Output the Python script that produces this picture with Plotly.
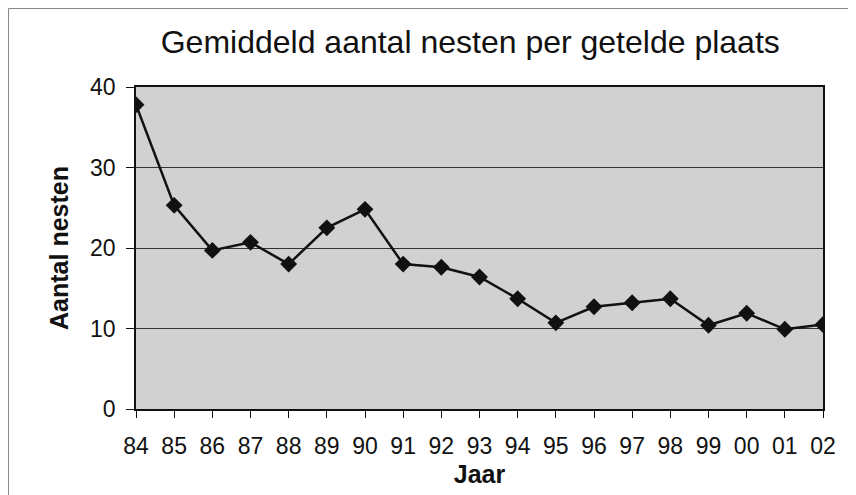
import plotly.graph_objects as go

years = ["84", "85", "86", "87", "88", "89", "90", "91", "92", "93",
         "94", "95", "96", "97", "98", "99", "00", "01", "02"]
nests = [37.8, 25.3, 19.7, 20.7, 18.0, 22.5, 24.8, 18.0, 17.6, 16.4,
         13.7, 10.7, 12.7, 13.2, 13.7, 10.4, 11.9, 9.9, 10.5]
y_ticks = [0, 10, 20, 30, 40]

title_text = "Gemiddeld aantal nesten per getelde plaats"
x_title = "Jaar"
y_title = "Aantal nesten"

FONT = "Liberation Sans, Arial, sans-serif"

fig = go.Figure()
fig.add_trace(go.Scatter(
    x=years, y=nests, mode="lines+markers",
    line=dict(color="#111111", width=2.5),
    marker=dict(symbol="diamond", size=13, color="#111111"),
    showlegend=False,
))

fig.update_layout(
    width=856, height=495,
    margin=dict(l=128, r=41, t=79, b=94),
    paper_bgcolor="white",
    plot_bgcolor="#d1d1d1",
    font=dict(family=FONT, color="#111111"),
    title=dict(text=title_text, x=0.540, xref="container", xanchor="center",
               y=0.931, yref="container", yanchor="middle",
               font=dict(size=32, family=FONT, color="#111111")),
    xaxis=dict(
        type="category", range=[0, 18],
        showline=True, linecolor="#111111", linewidth=1.5, mirror=True,
        ticks="outside", ticklen=7, tickcolor="#111111", tickwidth=1,
        ticklabelstandoff=9,
        tickfont=dict(size=23, family=FONT), showgrid=False,
        title=dict(text="<b>" + x_title + "</b>", font=dict(size=25, family=FONT), standoff=7),
    ),
    yaxis=dict(
        range=[0, 40], tickvals=y_ticks,
        showline=True, linecolor="#111111", linewidth=1.5, mirror=True,
        ticks="outside", ticklen=8, tickcolor="#111111", tickwidth=1,
        ticklabelstandoff=6,
        tickfont=dict(size=23, family=FONT),
        showgrid=True, gridcolor="#333333", gridwidth=1, zeroline=False,
        title=dict(text="<b>" + y_title + "</b>", font=dict(size=25, family=FONT), standoff=14),
    ),
    shapes=[dict(type="rect", xref="paper", yref="paper",
                 x0=-0.1856, x1=1.2, y0=-0.5, y1=1.2438,
                 line=dict(color="#888888", width=1))],
)

fig.write_html("out.html")
